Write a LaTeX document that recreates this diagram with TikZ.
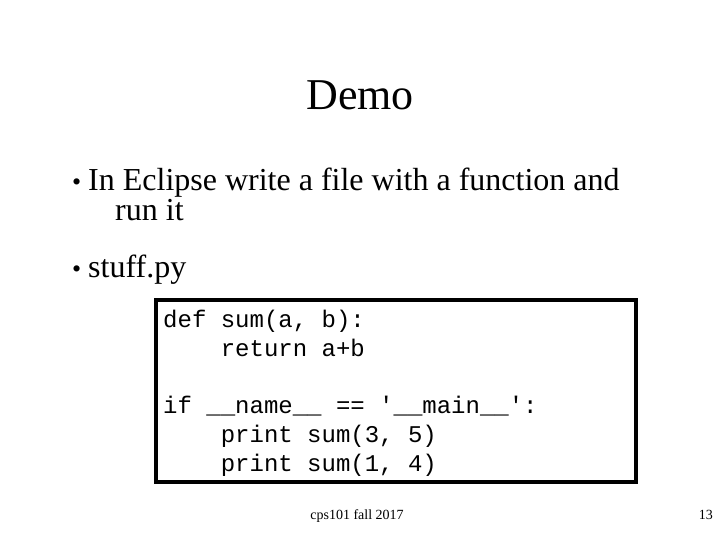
\documentclass[tikz,border=0pt]{standalone}
\usepackage{fontspec}
\setmainfont{Liberation Serif}
\setmonofont{Liberation Mono}
\begin{document}
\begin{tikzpicture}[x=1pt,y=-1pt,
  body/.style={anchor=base west,inner sep=0pt,font=\fontsize{32}{32}\selectfont},
  code/.style={anchor=base west,inner sep=0pt,font=\ttfamily\fontsize{24}{24}\selectfont}]
\useasboundingbox (0,0) rectangle (720,540);
\node[anchor=base,inner sep=0pt,font=\fontsize{44}{44}\selectfont] (title) at (360,110) {Demo};
\node[anchor=base west,inner sep=0pt,font=\fontsize{26}{26}\selectfont] (b1) at (72,191) {•};
\node[body] (t1) at (88,191) {In Eclipse write a file with a function and};
\node[body] (t1b) at (115,221) {run it};
\node[anchor=base west,inner sep=0pt,font=\fontsize{26}{26}\selectfont] (b2) at (72,277) {•};
\node[body] (t2) at (88,277) {stuff.py};
\draw[line width=4pt] (156,300) rectangle (636,482);
\node[code] (c1) at (163,327) {def sum(a, b):};
\node[code] (c2) at (163,356) {\ \ \ \ return a+b};
\node[code] (c3) at (163,413) {if \_\_name\_\_ == '\_\_main\_\_':};
\node[code] (c4) at (163,442) {\ \ \ \ print sum(3, 5)};
\node[code] (c5) at (163,471) {\ \ \ \ print sum(1, 4)};
\node[anchor=base,inner sep=0pt,font=\fontsize{14}{14}\selectfont] (foot) at (357,519) {cps101 fall 2017};
\node[anchor=base east,inner sep=0pt,font=\fontsize{14}{14}\selectfont] (pg) at (713,519) {13};
\end{tikzpicture}
\end{document}
